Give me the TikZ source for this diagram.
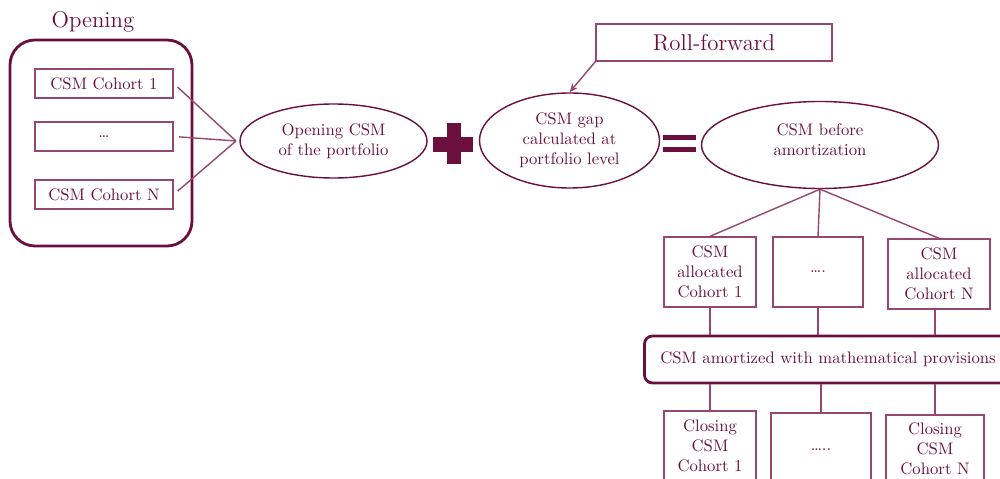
\documentclass[tikz,border=0pt]{standalone}
\usetikzlibrary{shapes.geometric,arrows.meta,shadows}
\definecolor{wine}{RGB}{107,16,62}
\definecolor{wineline}{RGB}{150,70,112}

\begin{document}
\begin{tikzpicture}[x=0.02cm,y=-0.02cm,
  font=\fontsize{9.5}{11.3}\selectfont, text=wine,
  sz/.style 2 args={minimum width=#1*0.02cm, minimum height=#2*0.02cm},
  cell/.style={draw=wineline, line width=0.8pt, fill=white, align=center, inner sep=0pt,
    drop shadow={shadow xshift=0.7pt, shadow yshift=-0.7pt, opacity=0.22}},
  oval/.style={ellipse, draw=wine, line width=0.8pt, align=center, inner sep=0pt},
  link/.style={draw=wineline, line width=0.8pt},
  frame/.style={draw=wine, line width=1.6pt, align=center, inner sep=0pt}]

\useasboundingbox (0,0) rectangle (1000,479);
\clip (0,0) rectangle (1000,479);

% opening cohorts
\node[frame, rounded corners=0.5cm, sz={182}{206}] (opening) at (101,143) {};
\node[font=\fontsize{13}{15}\selectfont] (title) at (93,22) {Opening};
\node[cell, sz={138}{29}] (c1) at (104,83.5) {CSM Cohort 1};
\node[cell, sz={138}{29}] (c2) at (104,136.5) {\dots};
\node[cell, sz={138}{29}] (c3) at (104,194.5) {CSM Cohort N};
\coordinate (join) at (236,141);
\foreach \c in {c1,c2,c3} \draw[link, shorten <=3pt] (\c.east) -- (join);

% portfolio level
\node[oval, sz={187}{74}] (e1) at (333.5,141) {Opening CSM\\of the portfolio};
\fill[wine] (433,137) rectangle (473,152);
\fill[wine] (447,123) rectangle (461,164);
\node[oval, sz={180}{95}] (e2) at (569.5,140.5) {CSM gap\\calculated at\\portfolio level};
\fill[wine] (663,135) rectangle (696,140);
\fill[wine] (663,147) rectangle (696,152);
\node[oval, sz={237}{87}] (e3) at (820,145) {};
\node[align=center] (e3text) at (820,139.5) {CSM before\\amortization};

\node[cell, sz={236}{37}, font=\fontsize{13}{15}\selectfont] (rf) at (714,42.5) {Roll-forward};
\draw[link, -{Stealth[length=5pt,width=4pt]}] (rf.south west) -- (e2.north);

% allocation to cohorts
\node[cell, sz={92}{70}] (b1) at (710,272) {CSM\\allocated\\Cohort 1};
\node[cell, sz={90}{70}] (b2) at (818,272) {\dots.};
\node[cell, sz={102}{70}] (b3) at (939,274) {CSM\\allocated\\Cohort N};
\foreach \b in {b1,b2,b3} \draw[link] (e3.south) -- (\b.north);

\node[frame, rounded corners=4.5pt, sz={367}{47}] (am) at (828,359.5)
  {CSM amortized with mathematical provisions};

% closing cohorts
\node[cell, sz={92}{70}] (bb1) at (710,446) {Closing\\CSM\\Cohort 1};
\node[cell, sz={100}{74}] (bb2) at (821,450) {\dots..};
\node[cell, sz={98}{68}] (bb3) at (935,449) {Closing\\CSM\\Cohort N};

\draw[link] (b1.south) -- (b1.south |- am.north);
\draw[link] (b2.south) -- (b2.south |- am.north);
\draw[link] (bb3.north |- b3.south) -- (bb3.north |- am.north);
\foreach \b in {bb1,bb2,bb3} \draw[link] (\b.north |- am.south) -- (\b.north);
\end{tikzpicture}
\end{document}
